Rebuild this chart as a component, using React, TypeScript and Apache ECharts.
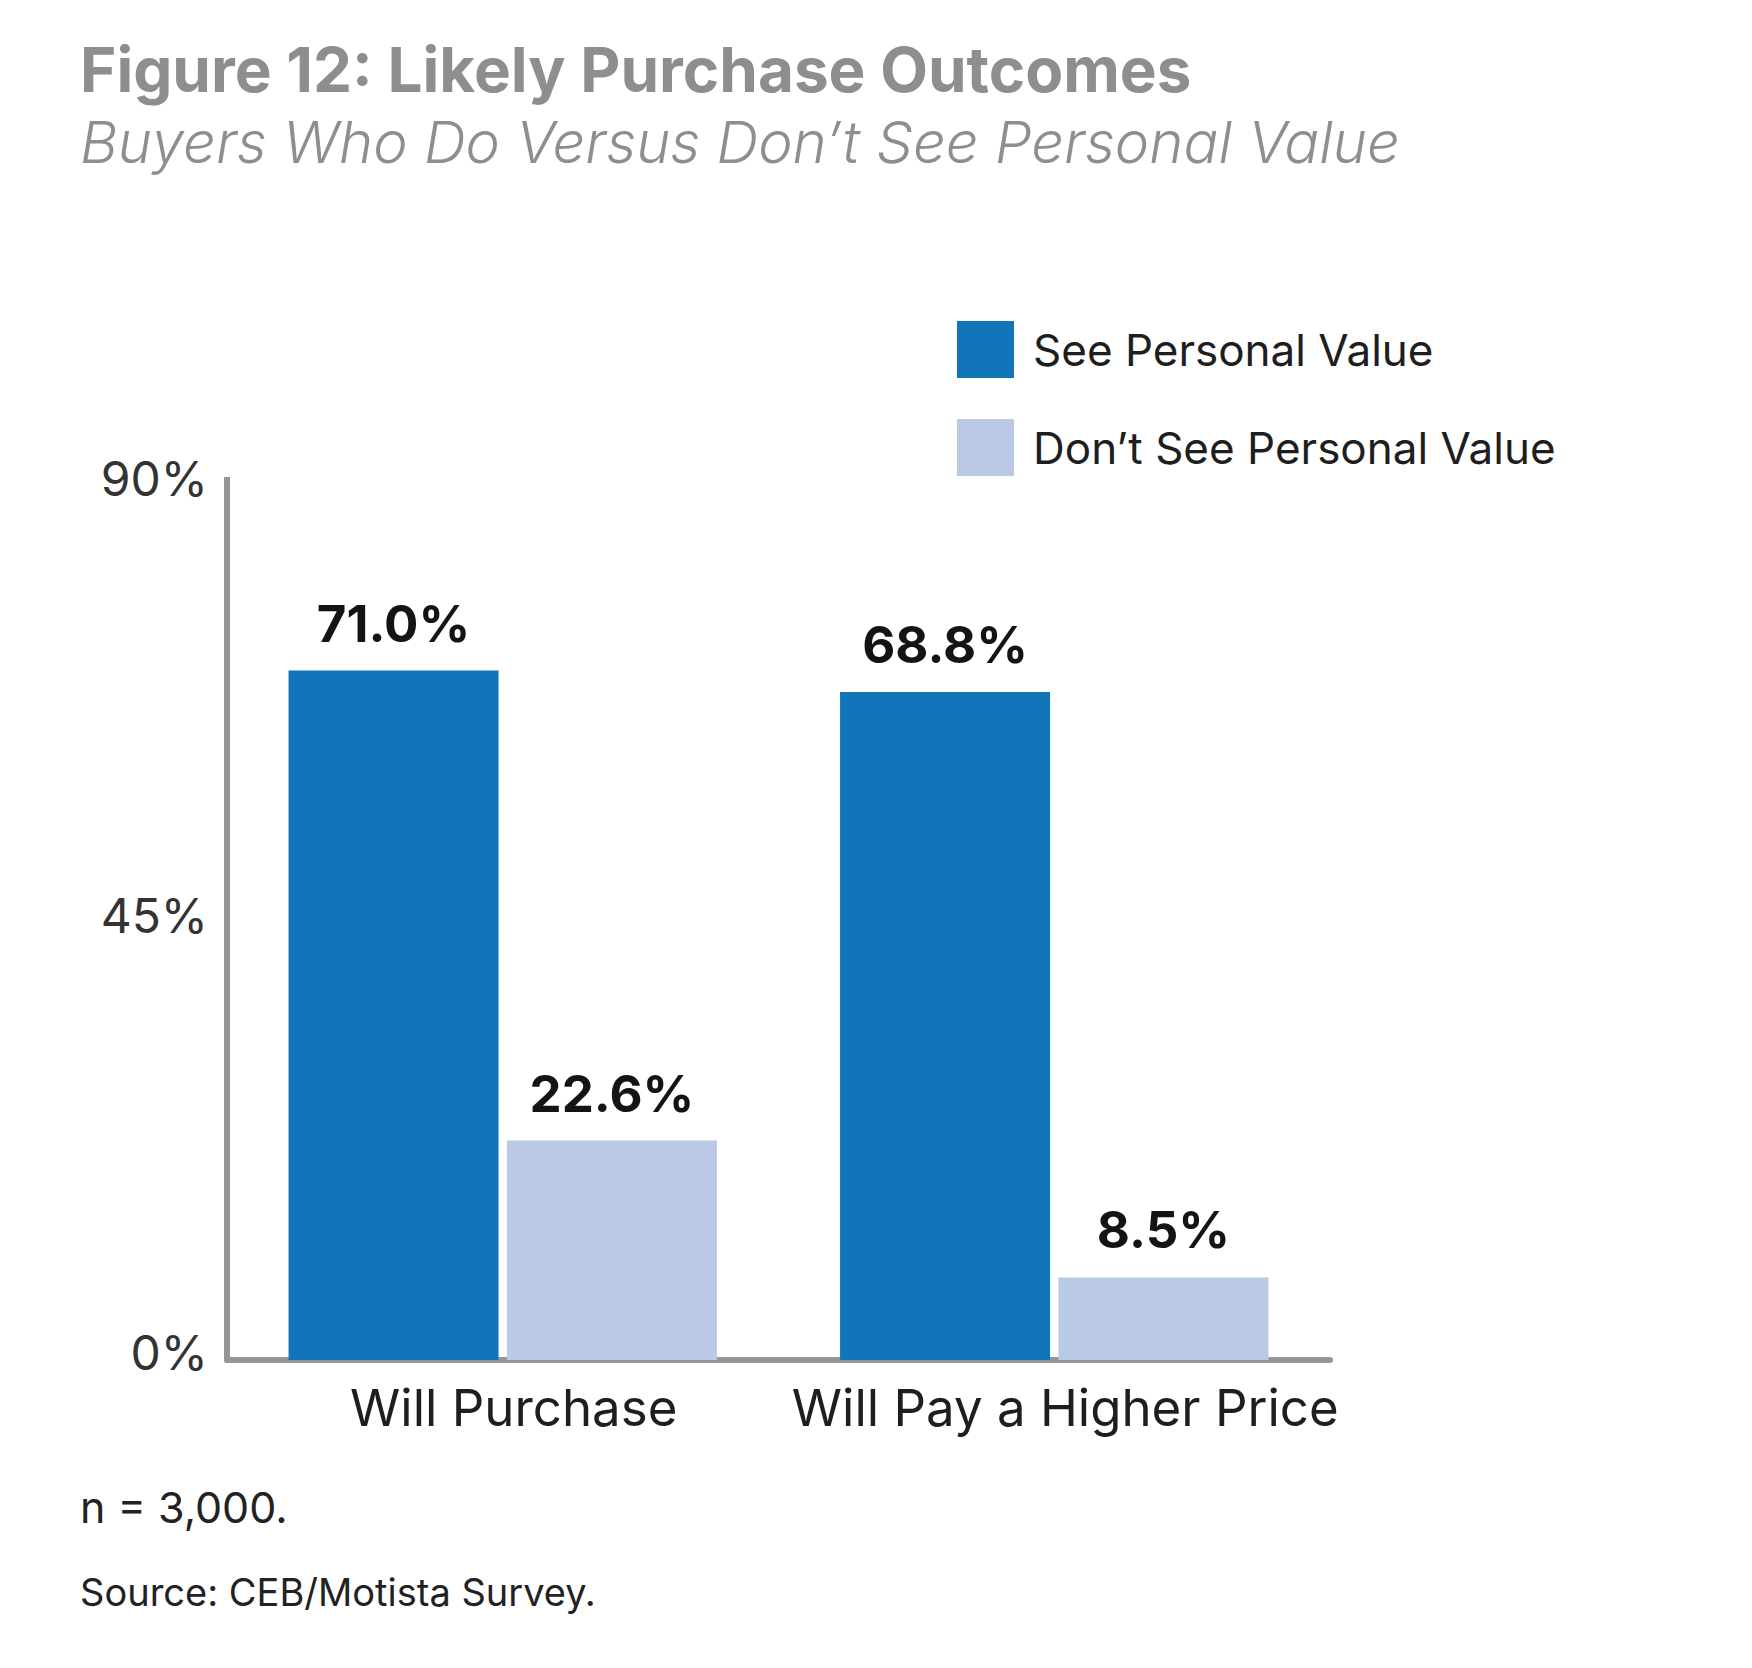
import React, { useEffect, useRef } from "react";
import * as echarts from "echarts";

const categories = ["Will Purchase", "Will Pay a Higher Price"];
const seePersonalValue = [71.0, 68.8];
const dontSeePersonalValue = [22.6, 8.5];
const seriesNames = ["See Personal Value", "Don\u2019t See Personal Value"];
const yTicks = { min: 0, max: 90, interval: 45 };

const FONT = "Inter, 'Noto Sans', sans-serif";

export default function App() {
  const ref = useRef<HTMLDivElement>(null);
  useEffect(() => {
    document.body.style.margin = "0";
    const chart = echarts.init(ref.current!, null, { renderer: "svg" });
    const labelCfg = {
      show: true,
      position: "top",
      distance: 22,
      fontFamily: FONT,
      fontSize: 51,
      fontWeight: "bold",
      color: "#141414",
      formatter: (p: any) => Number(p.value).toFixed(1) + "%",
    };
    chart.setOption({
      animation: false,
      backgroundColor: "#ffffff",
      textStyle: { fontFamily: FONT },
      title: [
        {
          text: "Figure 12: Likely Purchase Outcomes",
          left: 75,
          top: 33,
          textStyle: { fontFamily: FONT, fontSize: 62, fontWeight: "bold", color: "#8e8e8e" },
        },
        {
          text: "Buyers Who Do Versus Don\u2019t See Personal Value",
          left: 75,
          top: 108,
          textStyle: { fontFamily: FONT, fontSize: 58, fontWeight: 300, fontStyle: "italic", color: "#8e8e8e" },
        },
        {
          text: "n = 3,000.",
          left: 75,
          top: 1480,
          textStyle: { fontFamily: FONT, fontSize: 43, fontWeight: "normal", color: "#222222" },
        },
        {
          text: "Source: CEB/Motista Survey.",
          left: 75,
          top: 1568,
          textStyle: { fontFamily: FONT, fontSize: 38, fontWeight: "normal", color: "#222222" },
        },
      ],
      legend: {
        orient: "vertical",
        left: 952,
        top: 316,
        itemWidth: 57,
        itemHeight: 57,
        itemGap: 41,
        icon: "rect",
        textStyle: { fontFamily: FONT, fontSize: 44, color: "#1e1e1e", padding: [0, 0, 0, 14] },
        data: seriesNames,
      },
      grid: { left: 227, right: 422, top: 486, bottom: 308, containLabel: false },
      xAxis: {
        type: "category",
        data: categories,
        axisLine: { show: true, lineStyle: { color: "#969696", width: 6 } },
        axisTick: { show: false },
        axisLabel: {
          interval: 0,
          margin: 22,
          formatter: (v: string) => "{a|" + v + "}",
          rich: {
            a: { fontFamily: FONT, fontSize: 51, color: "#1e1e1e", padding: [0, 0, 0, 22] },
          },
        },
      },
      yAxis: {
        type: "value",
        min: yTicks.min,
        max: yTicks.max,
        interval: yTicks.interval,
        axisLine: {
          show: true,
          symbol: ["none", "rect"],
          symbolSize: [6, 18],
          lineStyle: { color: "#969696", width: 6 },
        },
        axisTick: { show: false },
        splitLine: { show: false },
        axisLabel: {
          margin: 19,
          formatter: (v: number) => "{a|" + v + "%}",
          rich: {
            a: { fontFamily: FONT, fontSize: 48, color: "#333333", padding: [0, 0, 16, 0] },
          },
        },
      },
      series: [
        {
          name: seriesNames[0],
          type: "bar",
          data: seePersonalValue,
          barWidth: 210,
          barGap: "4%",
          itemStyle: { color: "#1375b9" },
          label: labelCfg,
        },
        {
          name: seriesNames[1],
          type: "bar",
          data: dontSeePersonalValue,
          barWidth: 210,
          barGap: "4%",
          itemStyle: { color: "#bac9e5" },
          label: labelCfg,
        },
      ],
    });
    return () => chart.dispose();
  }, []);
  return <div ref={ref} style={{ width: 1752, height: 1668 }} />;
}
